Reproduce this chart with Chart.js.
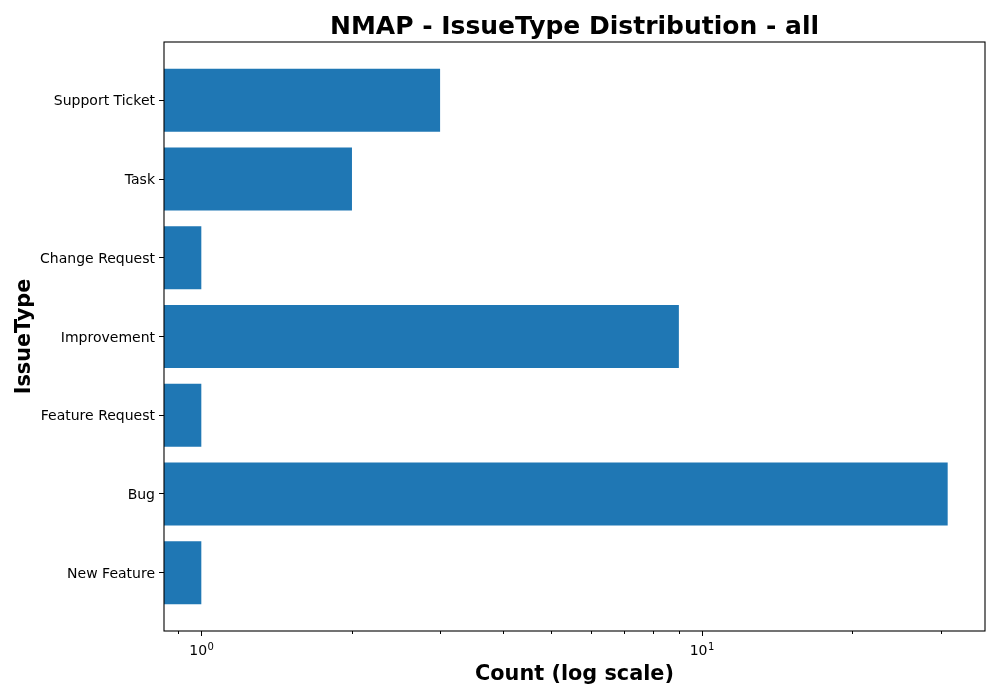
<!DOCTYPE html>
<html>
<head>
<meta charset="utf-8">
<script src="https://cdn.jsdelivr.net/npm/chart.js@4.4.0/dist/chart.umd.min.js"></script>
<style>
  html, body { margin: 0; padding: 0; background: #fff; }
  #wrap { width: 1000px; height: 700px; position: relative; }
</style>
</head>
<body>
<div id="wrap"><canvas id="issueChart"></canvas></div>
<script>
// bottom to top, same order matplotlib plotted them
const issueTypes = ["New Feature", "Bug", "Feature Request", "Improvement", "Change Request", "Task", "Support Ticket"];
const issueCounts = [1, 31, 1, 9, 1, 2, 3];

const xMajorTicks = [1, 10];
const xMinorTicks = [0.9, 2, 3, 4, 5, 6, 7, 8, 9, 20, 30];
const xTickExponents = { 1: "0", 10: "1" };

const chartTitle = "NMAP - IssueType Distribution - all";
const xTitle = "Count (log scale)";
const yTitle = "IssueType";

const barColor = "#1f77b4";
const fontFamily = "'DejaVu Sans', sans-serif";

// same padding matplotlib uses around the data (5% in log space)
const logMax = Math.log10(Math.max(...issueCounts));
const xMin = Math.pow(10, -0.05 * logMax);
const xMax = Math.pow(10, 1.05 * logMax);

const frameAndTicks = {
    id: "frameAndTicks",
    afterDatasetsDraw(chart) {
        const { ctx, chartArea } = chart;
        const xs = chart.scales.x;
        ctx.save();
        ctx.strokeStyle = "#000";
        ctx.fillStyle = "#000";
        ctx.lineWidth = 1;

        // minor and major ticks under the x axis
        const allTicks = xMajorTicks.map(v => [v, 5]).concat(xMinorTicks.map(v => [v, 3]));
        allTicks.forEach(([v, len]) => {
            const px = Math.round(xs.getPixelForValue(v)) + 0.5;
            ctx.beginPath();
            ctx.moveTo(px, chartArea.bottom);
            ctx.lineTo(px, chartArea.bottom + len);
            ctx.stroke();
        });

        // 10^n labels with a raised exponent, like mathtext
        ctx.textBaseline = "alphabetic";
        ctx.textAlign = "left";
        xMajorTicks.forEach(v => {
            const px = xs.getPixelForValue(v);
            ctx.font = "14px " + fontFamily;
            const w1 = ctx.measureText("10").width;
            ctx.font = "10px " + fontFamily;
            const w2 = ctx.measureText(xTickExponents[v]).width;
            const x0 = px - (w1 + w2) / 2;
            const base = chartArea.bottom + 24;
            ctx.font = "14px " + fontFamily;
            ctx.fillText("10", x0, base);
            ctx.font = "10px " + fontFamily;
            ctx.fillText(xTickExponents[v], x0 + w1 + 0.5, base - 5);
        });

        ctx.lineWidth = 1.1;
        ctx.strokeRect(chartArea.left, chartArea.top, chartArea.right - chartArea.left, chartArea.bottom - chartArea.top);

        // title centred over the axes, not the canvas
        ctx.font = "bold 25px " + fontFamily;
        ctx.textAlign = "center";
        ctx.fillText(chartTitle, (chartArea.left + chartArea.right) / 2, chartArea.top - 8);
        ctx.restore();
    }
};

const ctx = document.getElementById("issueChart").getContext("2d");

new Chart(ctx, {
    type: "bar",
    data: {
        datasets: [{
            data: issueCounts.map((c, i) => ({ x: c, y: i })),
            backgroundColor: barColor,
            borderWidth: 0,
            categoryPercentage: 0.8,
            barPercentage: 1.0
        }]
    },
    options: {
        indexAxis: "y",
        responsive: true,
        maintainAspectRatio: false,
        animation: false,
        layout: { padding: { top: 42, right: 15, left: 0, bottom: 0 } },
        plugins: {
            legend: { display: false },
            tooltip: { enabled: false },
            title: { display: false }
        },
        scales: {
            x: {
                type: "logarithmic",
                position: "bottom",
                min: xMin,
                max: xMax,
                bounds: "data",
                grid: { display: false },
                border: { display: false },
                afterBuildTicks(scale) {
                    scale.ticks = xMajorTicks.map(v => ({ value: v, major: true }));
                },
                afterFit(scale) { scale.height = 69; },
                ticks: {
                    autoSkip: false,
                    maxRotation: 0,
                    callback: () => ""
                },
                title: {
                    display: true,
                    text: xTitle,
                    color: "#000",
                    font: { family: fontFamily, size: 20.8, weight: "bold" },
                    padding: { top: 0, bottom: 13 }
                }
            },
            y: {
                type: "linear",
                position: "left",
                min: -0.74,
                max: 6.74,
                bounds: "data",
                offset: false,
                grid: {
                    display: true,
                    offset: false,
                    drawOnChartArea: false,
                    drawTicks: true,
                    tickLength: 5,
                    tickColor: "#000",
                    tickWidth: 1
                },
                border: { display: false },
                afterBuildTicks(scale) {
                    scale.ticks = issueTypes.map((t, i) => ({ value: i }));
                },
                afterFit(scale) { scale.width = 164; },
                ticks: {
                    autoSkip: false,
                    padding: 4,
                    labelOffset: 1.5,
                    color: "#000",
                    font: { family: fontFamily, size: 14 },
                    callback: (v) => issueTypes[v]
                },
                title: {
                    display: true,
                    text: yTitle,
                    color: "#000",
                    font: { family: fontFamily, size: 20.8, weight: "bold" },
                    padding: { top: 12, bottom: 0 }
                }
            }
        }
    },
    plugins: [frameAndTicks]
});
</script>
</body>
</html>
